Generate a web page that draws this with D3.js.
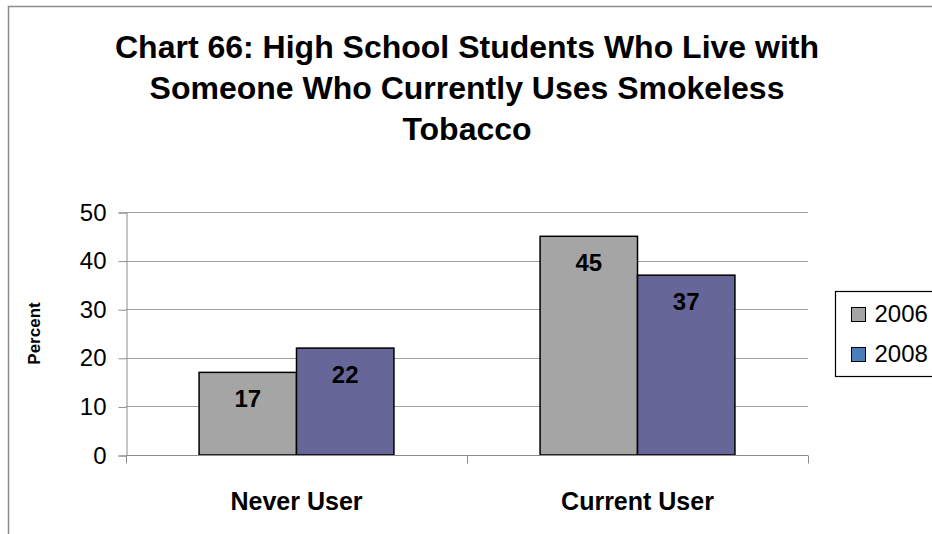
<!DOCTYPE html>
<html>
<head>
<meta charset="utf-8">
<script src="https://cdn.jsdelivr.net/npm/d3@7/dist/d3.min.js"></script>
<style>
  html, body { margin: 0; padding: 0; background: #fff; }
  svg { display: block; font-family: Arial, "Liberation Sans", sans-serif; }
</style>
</head>
<body>
<svg id="chart" width="932" height="534"></svg>
<script>
// Chart data
const categories = ["Never User", "Current User"];
const seriesNames = ["2006", "2008"];
const values2006 = [17, 45];
const values2008 = [22, 37];
const yTicks = [0, 10, 20, 30, 40, 50];
const titleLines = [
  "Chart 66: High School Students Who Live with",
  "Someone Who Currently Uses Smokeless",
  "Tobacco"
];

const barColors = ["#a5a5a5", "#666699"];
const legendColors = ["#a5a5a5", "#4a7ebb"];

const svg = d3.select("#chart");
const W = 932, H = 534;
const plot = { left: 126, right: 808, top: 212, bottom: 455 };

// Outer chart frame (left and top edges fall inside the view)
svg.append("path")
  .attr("d", `M8.5,${H} V6.5 H${W}`)
  .attr("fill", "none").attr("stroke", "#8c8c8c").attr("stroke-width", 1.5);

// Title
svg.append("g").selectAll("text").data(titleLines).join("text")
  .attr("x", (plot.left + plot.right) / 2)
  .attr("y", (d, i) => 58 + i * 41)
  .attr("text-anchor", "middle")
  .attr("font-size", 32).attr("font-weight", "bold").attr("fill", "#000")
  .text(d => d);

// Scales
const x0 = d3.scaleBand().domain(categories).range([plot.left, plot.right]);
const barW = x0.bandwidth() / 3.5; // gap width 150%
const x1 = d3.scaleBand().domain(seriesNames)
  .range([(x0.bandwidth() - 2 * barW) / 2, (x0.bandwidth() + 2 * barW) / 2]);
const y = d3.scaleLinear().domain([0, 50]).range([plot.bottom, plot.top]);

// Gridlines
svg.append("g").selectAll("line").data(yTicks.filter(t => t > 0)).join("line")
  .attr("x1", plot.left).attr("x2", plot.right)
  .attr("y1", d => Math.round(y(d)) + 0.5).attr("y2", d => Math.round(y(d)) + 0.5)
  .attr("stroke", "#a0a0a0").attr("stroke-width", 1);

// Y axis
const yAxis = d3.axisLeft(y).tickValues(yTicks).tickSize(8).tickPadding(12);
const gy = svg.append("g").attr("transform", `translate(${plot.left + 0.5},0.5)`).call(yAxis);
gy.select(".domain").attr("stroke", "#8c8c8c");
gy.selectAll(".tick line").attr("stroke", "#8c8c8c");
gy.selectAll(".tick text").attr("font-size", 24).attr("font-family", "Arial, 'Liberation Sans', sans-serif").attr("fill", "#000");

// Bars
const data = categories.map((c, i) => ({ cat: c, vals: [values2006[i], values2008[i]] }));
const groups = svg.append("g").selectAll("g").data(data).join("g")
  .attr("transform", d => `translate(${x0(d.cat)},0)`);
groups.selectAll("rect").data(d => d.vals.map((v, j) => ({ v, s: seriesNames[j], j }))).join("rect")
  .attr("x", d => x1(d.s)).attr("width", x1.bandwidth())
  .attr("y", d => y(d.v)).attr("height", d => y(0) - y(d.v))
  .attr("fill", d => barColors[d.j]).attr("stroke", "#000").attr("stroke-width", 1.5);
groups.selectAll("text.val").data(d => d.vals.map((v, j) => ({ v, s: seriesNames[j] }))).join("text")
  .attr("class", "val")
  .attr("x", d => x1(d.s) + x1.bandwidth() / 2)
  .attr("y", d => y(d.v) + 35)
  .attr("text-anchor", "middle").attr("font-size", 24).attr("font-weight", "bold")
  .text(d => d.v);

// Category axis
const gx = svg.append("g").attr("transform", `translate(0,${plot.bottom + 0.5})`);
gx.append("line").attr("x1", plot.left).attr("x2", plot.right).attr("stroke", "#8c8c8c");
const sepTicks = [plot.left, ...categories.map(c => x0(c) + x0.bandwidth())];
gx.selectAll("line.sep").data(sepTicks).join("line").attr("class", "sep")
  .attr("x1", d => Math.round(d) + 0.5).attr("x2", d => Math.round(d) + 0.5)
  .attr("y1", 0).attr("y2", 8).attr("stroke", "#8c8c8c");
gx.selectAll("text").data(categories).join("text")
  .attr("x", d => x0(d) + x0.bandwidth() / 2).attr("y", 54)
  .attr("text-anchor", "middle").attr("font-size", 25).attr("font-weight", "bold")
  .text(d => d);

// Y axis title
svg.append("text")
  .attr("transform", `translate(40,${(plot.top + plot.bottom) / 2}) rotate(-90)`)
  .attr("text-anchor", "middle").attr("font-size", 17).attr("font-weight", "bold")
  .text("Percent");

// Legend, centred on the plot's vertical middle
const lgTop = 291, lgH = 85;
const lg = svg.append("g").attr("transform", `translate(835.5,${lgTop + 0.5})`);
lg.append("rect").attr("width", 130).attr("height", lgH)
  .attr("fill", "#fff").attr("stroke", "#000").attr("stroke-width", 1.2);
const items = lg.selectAll("g").data(seriesNames).join("g")
  .attr("transform", (d, i) => `translate(16,${16 + i * 40})`);
items.append("rect").attr("width", 14).attr("height", 14)
  .attr("fill", (d, i) => legendColors[i]).attr("stroke", "#000").attr("stroke-width", 1);
items.append("text").attr("x", 23).attr("y", 14.5)
  .attr("font-size", 24).text(d => d);
</script>
</body>
</html>
